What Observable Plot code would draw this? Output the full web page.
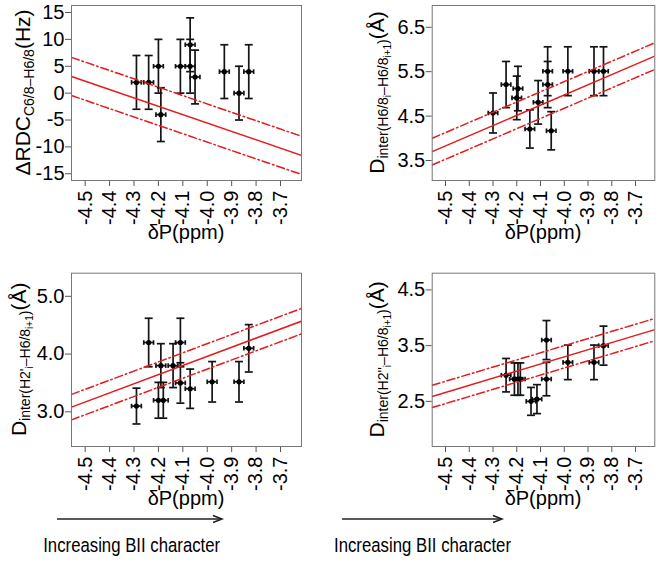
<!DOCTYPE html>
<html><head><meta charset="utf-8">
<script src="https://cdn.jsdelivr.net/npm/d3@7"></script>
<script src="https://cdn.jsdelivr.net/npm/@observablehq/plot@0.6"></script>
<style>
body{margin:0;background:#fff;}
#fig{position:relative;width:661px;height:570px;font-family:"Liberation Sans",Arial,Helvetica,sans-serif;background:#fff;}
#fig svg{position:absolute;overflow:visible;}
</style></head><body><div id="fig"></div>
<script>
// ---- shared axis ticks ----
const xTicks = [-4.5, -4.4, -4.3, -4.2, -4.1, -4.0, -3.9, -3.8, -3.7];
const xErr = 0.02;

// ---- panel A: ΔRDC ----
const rdcX   = [-4.29, -4.24, -4.20, -4.19, -4.11, -4.07, -4.07, -4.05, -3.93, -3.87, -3.83];
const rdcY   = [2, 2, 5, -4, 5, 9, 5, 3, 4, 0, 4];
const rdcErr = [5, 5, 5, 5, 5, 5, 5, 5, 5, 5, 5];
const rdcFit = {slope: -15.58, intercept: -67.88, band: 3.55};
const rdcYTicks = [-15, -10, -5, 0, 5, 10, 15];

// ---- panel B: D inter H6/8 - H6/8 ----
const h68X   = [-4.30, -4.245, -4.20, -4.195, -4.145, -4.11, -4.07, -4.07, -4.055, -3.985, -3.875, -3.835];
const h68Y   = [4.57, 5.21, 4.91, 5.12, 4.21, 4.81, 5.51, 5.21, 4.17, 5.51, 5.51, 5.51];
const h68Err = [0.45, 0.52, 0.49, 0.50, 0.43, 0.49, 0.55, 0.52, 0.43, 0.55, 0.55, 0.55];
const h68Fit = {slope: 2.295, intercept: 14.156, band: 0.30};
const h68YTicks = [3.5, 4.5, 5.5, 6.5];

// ---- panel C: D inter H2' - H6/8 ----
const h2pX   = [-4.29, -4.24, -4.20, -4.18, -4.19, -4.14, -4.11, -4.11, -4.07, -3.98, -3.87, -3.83];
const h2pY   = [3.10, 4.20, 3.20, 3.20, 3.80, 3.80, 4.20, 3.50, 3.40, 3.52, 3.52, 4.10];
const h2pErr = [0.31, 0.42, 0.31, 0.31, 0.38, 0.38, 0.42, 0.35, 0.34, 0.35, 0.35, 0.41];
const h2pFit = {slope: 1.58, intercept: 10.28, band: 0.22};
const h2pYTicks = [3.0, 4.0, 5.0];

// ---- panel D: D inter H2'' - H6/8 ----
const h2ppX   = [-4.245, -4.21, -4.195, -4.185, -4.14, -4.115, -4.075, -4.075, -3.985, -3.875, -3.835];
const h2ppY   = [2.97, 2.90, 2.90, 2.90, 2.50, 2.54, 3.60, 2.90, 3.20, 3.20, 3.50];
const h2ppErr = [0.30, 0.29, 0.29, 0.29, 0.25, 0.26, 0.35, 0.30, 0.31, 0.31, 0.35];
const h2ppFit = {slope: 1.28, intercept: 8.42, band: 0.20};
const h2ppYTicks = [2.5, 3.5, 4.5];

const FONT = '"Liberation Sans", Arial, Helvetica, sans-serif';
const RED = "#e8191c";
const INK = "#141414";

const hCap = {draw(ctx, size){ const r = Math.sqrt(size/Math.PI); ctx.moveTo(-r,0); ctx.lineTo(r,0);} };
const vCap = {draw(ctx, size){ const r = Math.sqrt(size/Math.PI); ctx.moveTo(0,-r); ctx.lineTo(0,r);} };

function panel(cfg){
  const data = cfg.xs.map((x,i)=>({x, y: cfg.ys[i], e: cfg.errs[i]}));
  const xd = cfg.xDomain;
  const fitPts = xd.map(x => ({x, y: cfg.fit.intercept + cfg.fit.slope * x}));
  const svg = Plot.plot({
    width: cfg.width, height: cfg.height,
    marginLeft: cfg.ml, marginRight: cfg.mr, marginTop: cfg.mt, marginBottom: cfg.mb,
    style: {fontFamily: FONT, background: "transparent", color: "#000"},
    x: {domain: xd, axis: null},
    y: {domain: cfg.yDomain, axis: null},
    marks: [
      Plot.axisX(xTicks, {tickFormat: d => d.toFixed(1), tickRotate: -90, tickSize: 6, tickPadding: 4, fontSize: 20, stroke: "#555", fill: "#000", label: null}),
      Plot.axisY(cfg.yTicks, {tickFormat: cfg.yFormat, tickSize: 6, tickPadding: 1, fontSize: 20, stroke: "#555", fill: "#000", label: null}),
      Plot.ruleX(data, {x: "x", y1: d => d.y - d.e, y2: d => d.y + d.e, stroke: INK, strokeWidth: 1.7}),
      Plot.dot(data, {x: "x", y: d => d.y + d.e, symbol: hCap, r: 4, stroke: INK, strokeWidth: 1.7, fill: "none"}),
      Plot.dot(data, {x: "x", y: d => d.y - d.e, symbol: hCap, r: 4, stroke: INK, strokeWidth: 1.7, fill: "none"}),
      Plot.ruleY(data, {y: "y", x1: d => d.x - xErr, x2: d => d.x + xErr, stroke: INK, strokeWidth: 1.7}),
      Plot.dot(data, {x: d => d.x - xErr, y: "y", symbol: vCap, r: 2.3, stroke: INK, strokeWidth: 1.7, fill: "none"}),
      Plot.dot(data, {x: d => d.x + xErr, y: "y", symbol: vCap, r: 2.3, stroke: INK, strokeWidth: 1.7, fill: "none"}),
      Plot.dot(data, {x: "x", y: "y", r: 2.6, fill: "#000", stroke: "none"}),
      Plot.line(fitPts, {x: "x", y: "y", stroke: RED, strokeWidth: 1.5, clip: true}),
      Plot.line(fitPts, {x: "x", y: d => d.y + cfg.fit.band, stroke: RED, strokeWidth: 1.5, strokeDasharray: "8,3,1.5,3", clip: true}),
      Plot.line(fitPts, {x: "x", y: d => d.y - cfg.fit.band, stroke: RED, strokeWidth: 1.5, strokeDasharray: "8,3,1.5,3", clip: true}),
      Plot.frame({stroke: "#777", strokeWidth: 1})
    ]
  });
  svg.style.left = cfg.left + "px";
  svg.style.top = cfg.top + "px";
  const s = d3.select(svg);
  const fx = cfg.ml + (cfg.width - cfg.ml - cfg.mr) / 2;
  const fy = cfg.mt + (cfg.height - cfg.mt - cfg.mb) / 2;
  const frameBottom = cfg.height - cfg.mb;
  // x-axis title
  s.append("text").attr("x", fx).attr("y", frameBottom + 59).attr("text-anchor", "middle")
    .attr("font-family", FONT).attr("font-size", 20).attr("fill", "#000").text("δP(ppm)");
  // y-axis title with subscripts
  const t = s.append("text").attr("text-anchor", "middle").attr("font-family", FONT).attr("fill", "#000")
    .attr("transform", `translate(${cfg.yLabelX},${fy}) rotate(-90)`);
  cfg.yLabel.forEach(p => {
    const ts = t.append("tspan").attr("font-size", p.size).text(p.text);
    if (p.dy) ts.attr("dy", p.dy);
  });
  document.getElementById("fig").appendChild(svg);
}

panel({left: 0, top: 0, width: 330, height: 250, ml: 71, mr: 29, mt: 5, mb: 70,
  xDomain: [-4.556, -3.614], yDomain: [-16.25, 16.3], yTicks: rdcYTicks, yFormat: d => String(d),
  xs: rdcX, ys: rdcY, errs: rdcErr, fit: rdcFit, yLabelX: 30,
  yLabel: [
    {text: "ΔRDC", size: 21},
    {text: "C6/8–H6/8", size: 14, dy: 4},
    {text: "(Hz)", size: 21, dy: -4}
  ]});

panel({left: 330, top: 0, width: 331, height: 250, ml: 101.7, mr: 6.7, mt: 5, mb: 70,
  xDomain: [-4.556, -3.619], yDomain: [3.05, 6.99], yTicks: h68YTicks, yFormat: d => d.toFixed(1),
  xs: h68X, ys: h68Y, errs: h68Err, fit: h68Fit, yLabelX: 54,
  yLabel: [
    {text: "D", size: 21},
    {text: "inter(H6/8", size: 14, dy: 4},
    {text: "i", size: 10, dy: 3},
    {text: "–H6/8", size: 14, dy: -3},
    {text: "i+1", size: 10, dy: 3},
    {text: ")", size: 14, dy: -3},
    {text: "(Å)", size: 21, dy: -4}
  ]});

panel({left: 0, top: 250, width: 330, height: 270, ml: 71, mr: 29, mt: 22.7, mb: 74,
  xDomain: [-4.556, -3.614], yDomain: [2.40, 5.40], yTicks: h2pYTicks, yFormat: d => d.toFixed(1),
  xs: h2pX, ys: h2pY, errs: h2pErr, fit: h2pFit, yLabelX: 26,
  yLabel: [
    {text: "D", size: 21},
    {text: "inter(H2'", size: 14, dy: 4},
    {text: "i", size: 10, dy: 3},
    {text: "–H6/8", size: 14, dy: -3},
    {text: "i+1", size: 10, dy: 3},
    {text: ")", size: 14, dy: -3},
    {text: "(Å)", size: 21, dy: -4}
  ]});

panel({left: 330, top: 250, width: 331, height: 270, ml: 101.7, mr: 6.7, mt: 22.7, mb: 74,
  xDomain: [-4.556, -3.619], yDomain: [1.69, 4.80], yTicks: h2ppYTicks, yFormat: d => d.toFixed(1),
  xs: h2ppX, ys: h2ppY, errs: h2ppErr, fit: h2ppFit, yLabelX: 54,
  yLabel: [
    {text: "D", size: 21},
    {text: "inter(H2''", size: 14, dy: 4},
    {text: "i", size: 10, dy: 3},
    {text: "–H6/8", size: 14, dy: -3},
    {text: "i+1", size: 10, dy: 3},
    {text: ")", size: 14, dy: -3},
    {text: "(Å)", size: 21, dy: -4}
  ]});

// ---- bottom annotation: arrows and caption ----
const notes = [{x1: 57, x2: 222, cx: 131.7}, {x1: 342, x2: 502, cx: 422.5}];
const ov = d3.select("#fig").append("svg").attr("width", 661).attr("height", 570).style("left", "0px").style("top", "0px");
notes.forEach(n => {
  ov.append("line").attr("x1", n.x1).attr("x2", n.x2 - 1).attr("y1", 519).attr("y2", 519).attr("stroke", "#222").attr("stroke-width", 1.5);
  ov.append("path").attr("d", `M${n.x2 - 9},515.5L${n.x2},519L${n.x2 - 9},522.5`).attr("fill", "none").attr("stroke", "#222").attr("stroke-width", 1.5);
  ov.append("text").attr("x", n.cx).attr("y", 552).attr("text-anchor", "middle").attr("font-family", FONT)
    .attr("font-size", 20.5).attr("textLength", 177).attr("lengthAdjust", "spacingAndGlyphs").attr("fill", "#000").text("Increasing BII character");
});
</script></body></html>
